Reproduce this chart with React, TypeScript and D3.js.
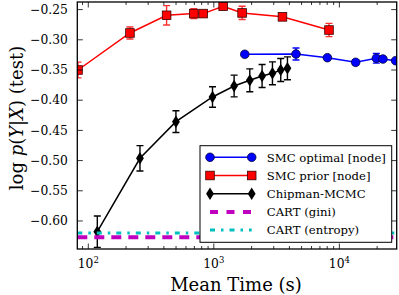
import React, { useEffect, useRef } from 'react';
import * as d3 from 'd3';

// SMC optimal [node]
const smcOptTime = [1764, 4515, 8025, 13480, 19700, 22230, 28050];
const smcOptVal = [-0.324, -0.3235, -0.3296, -0.3373, -0.3306, -0.3318, -0.3346];
const smcOptErr = [0.003, 0.01, 0.003, 0.004, 0.008, 0.003, 0.003];

// SMC prior [node]
const smcPriorTime = [82.8, 214.7, 420.5, 693, 822, 1186, 1680, 3521, 8268];
const smcPriorVal = [-0.35, -0.2887, -0.2594, -0.2566, -0.2566, -0.2445, -0.2555, -0.262, -0.2838];
const smcPriorErr = [0.013, 0.01, 0.016, 0.008, 0.003, 0.003, 0.011, 0.003, 0.011];

// Chipman-MCMC
const chipTime = [118, 258, 499, 976, 1451, 1934, 2423, 2931, 3412, 3858];
const chipVal = [-0.6177, -0.4962, -0.4356, -0.3947, -0.3765, -0.3671, -0.3599, -0.3555, -0.35, -0.3472];
const chipErr = [0.026, 0.021, 0.018, 0.017, 0.018, 0.019, 0.019, 0.019, 0.019, 0.019];

// CART baselines
const cartGini = -0.627;
const cartEntropy = -0.62;

const yTicks = [-0.6, -0.55, -0.5, -0.45, -0.4, -0.35, -0.3, -0.25];
const yTickLabels = ['\u22120.60', '\u22120.55', '\u22120.50', '\u22120.45', '\u22120.40', '\u22120.35', '\u22120.30', '\u22120.25'];
const xMajor = [100, 1000, 10000];
const xMajorExp = ['2', '3', '4'];

const legendLabels = ['SMC optimal [node]', 'SMC prior [node]', 'Chipman-MCMC', 'CART (gini)', 'CART (entropy)'];

const FONT = '"DejaVu Serif", serif';

const App: React.FC = () => {
  const ref = useRef<HTMLDivElement | null>(null);

  useEffect(() => {
    if (!ref.current) return;
    ref.current.innerHTML = '';

    const width = 399;
    const height = 295;
    const left = 77.3;
    const right = 396.7;
    const top = 2;
    const bottom = 249;

    const x = d3.scaleLog().domain([81.75, 28620]).range([left, right]);
    const y = d3.scaleLinear().domain([-0.6464, -0.2374]).range([bottom, top]);

    const svg = d3
      .select(ref.current)
      .append('svg')
      .attr('width', width)
      .attr('height', height)
      .style('position', 'absolute')
      .style('left', '0px')
      .style('top', '0px')
      .style('background', '#fff');

    svg
      .append('defs')
      .append('clipPath')
      .attr('id', 'plot-clip')
      .append('rect')
      .attr('x', left)
      .attr('y', top)
      .attr('width', right - left)
      .attr('height', bottom - top);

    const plot = svg.append('g').attr('clip-path', 'url(#plot-clip)');

    type Pt = { t: number; v: number; e: number };
    const zip = (ts: number[], vs: number[], es: number[]): Pt[] => ts.map((t, i) => ({ t, v: vs[i], e: es[i] }));

    const line = d3
      .line<Pt>()
      .x((d) => x(d.t))
      .y((d) => y(d.v));

    const drawErr = (g: any, data: Pt[], color: string) => {
      data.forEach((d) => {
        const cx = x(d.t);
        const y0 = y(d.v - d.e);
        const y1 = y(d.v + d.e);
        g.append('line').attr('x1', cx).attr('x2', cx).attr('y1', y0).attr('y2', y1).attr('stroke', color).attr('stroke-width', 1.4);
        [y0, y1].forEach((yy) => {
          g.append('line').attr('x1', cx - 3.5).attr('x2', cx + 3.5).attr('y1', yy).attr('y2', yy).attr('stroke', color).attr('stroke-width', 1.4);
        });
      });
    };

    const circle = (g: any, cx: number, cy: number) =>
      g.append('circle').attr('cx', cx).attr('cy', cy).attr('r', 4.3).attr('fill', '#0000ff').attr('stroke', '#00003a').attr('stroke-width', 0.8);
    const square = (g: any, cx: number, cy: number) =>
      g.append('rect').attr('x', cx - 4.3).attr('y', cy - 4.3).attr('width', 8.6).attr('height', 8.6).attr('fill', '#ff0000').attr('stroke', '#3a0000').attr('stroke-width', 0.8);
    const diamond = (g: any, cx: number, cy: number) =>
      g
        .append('path')
        .attr('d', `M${cx},${cy - 6.2}L${cx + 3.9},${cy}L${cx},${cy + 6.2}L${cx - 3.9},${cy}Z`)
        .attr('fill', '#000');

    // SMC optimal
    const opt = zip(smcOptTime, smcOptVal, smcOptErr);
    plot.append('path').datum(opt).attr('d', line).attr('fill', 'none').attr('stroke', '#0000ff').attr('stroke-width', 1.5);
    drawErr(plot, opt, '#0000ff');
    opt.forEach((d) => circle(plot, x(d.t), y(d.v)));

    // SMC prior
    const prior = zip(smcPriorTime, smcPriorVal, smcPriorErr);
    plot.append('path').datum(prior).attr('d', line).attr('fill', 'none').attr('stroke', '#ff0000').attr('stroke-width', 1.5);
    drawErr(plot, prior, '#ff3030');
    prior.forEach((d) => square(plot, x(d.t), y(d.v)));

    // Chipman
    const chip = zip(chipTime, chipVal, chipErr);
    plot.append('path').datum(chip).attr('d', line).attr('fill', 'none').attr('stroke', '#000').attr('stroke-width', 1.5);
    drawErr(plot, chip, '#000');
    chip.forEach((d) => diamond(plot, x(d.t), y(d.v)));

    // CART lines
    plot
      .append('line')
      .attr('x1', left)
      .attr('x2', right)
      .attr('y1', y(cartGini))
      .attr('y2', y(cartGini))
      .attr('stroke', '#bf00bf')
      .attr('stroke-width', 4)
      .attr('stroke-dasharray', '10,7');
    plot
      .append('line')
      .attr('x1', left)
      .attr('x2', right)
      .attr('y1', y(cartEntropy))
      .attr('y2', y(cartEntropy))
      .attr('stroke', '#00bfbf')
      .attr('stroke-width', 3)
      .attr('stroke-dasharray', '5,6,2.5,6');

    // ticks
    const axes = svg.append('g').attr('stroke', '#000').attr('stroke-width', 0.8);
    const minor: number[] = [];
    [10, 100, 1000, 10000].forEach((dec) => {
      for (let k = 2; k <= 9; k++) {
        const v = dec * k;
        if (v > 81.75 && v < 28620) minor.push(v);
      }
    });
    minor.forEach((v) => {
      axes.append('line').attr('x1', x(v)).attr('x2', x(v)).attr('y1', bottom).attr('y2', bottom - 3);
      axes.append('line').attr('x1', x(v)).attr('x2', x(v)).attr('y1', top).attr('y2', top + 3);
    });
    xMajor.forEach((v) => {
      axes.append('line').attr('x1', x(v)).attr('x2', x(v)).attr('y1', bottom).attr('y2', bottom - 5.5);
      axes.append('line').attr('x1', x(v)).attr('x2', x(v)).attr('y1', top).attr('y2', top + 5.5);
    });
    yTicks.forEach((v) => {
      axes.append('line').attr('x1', left).attr('x2', left + 5.5).attr('y1', y(v)).attr('y2', y(v));
      axes.append('line').attr('x1', right).attr('x2', right - 5.5).attr('y1', y(v)).attr('y2', y(v));
    });

    // tick labels
    yTicks.forEach((v, i) => {
      svg
        .append('text')
        .attr('x', left - 9.5)
        .attr('y', y(v) + 4.2)
        .attr('text-anchor', 'end')
        .attr('font-family', FONT)
        .attr('font-size', 12.3)
        .attr('fill', '#000')
        .text(yTickLabels[i]);
    });
    xMajor.forEach((v, i) => {
      const t = svg
        .append('text')
        .attr('x', x(v))
        .attr('y', 268)
        .attr('text-anchor', 'middle')
        .attr('font-family', FONT)
        .attr('font-size', 12.3)
        .attr('fill', '#000');
      t.append('tspan').text('10');
      t.append('tspan').attr('dy', -5).attr('font-size', 8.5).text(xMajorExp[i]);
    });

    // axis labels
    svg
      .append('text')
      .attr('x', 236)
      .attr('y', 290.5)
      .attr('text-anchor', 'middle')
      .attr('font-family', FONT)
      .attr('font-size', 18)
      .attr('fill', '#000')
      .text('Mean Time (s)');

    const yl = svg
      .append('text')
      .attr('transform', 'translate(22.5,118) rotate(-90)')
      .attr('text-anchor', 'middle')
      .attr('font-family', FONT)
      .attr('font-size', 18)
      .attr('fill', '#000');
    yl.append('tspan').text('log ');
    yl.append('tspan').attr('font-style', 'italic').text('p');
    yl.append('tspan').text('(');
    yl.append('tspan').attr('font-style', 'italic').text('Y');
    yl.append('tspan').text('|');
    yl.append('tspan').attr('font-style', 'italic').text('X');
    yl.append('tspan').text(') (test)');

    // frame
    svg
      .append('rect')
      .attr('x', left)
      .attr('y', top)
      .attr('width', right - left)
      .attr('height', bottom - top)
      .attr('fill', 'none')
      .attr('stroke', '#000')
      .attr('stroke-width', 1.3);

    // legend
    const lg = svg.append('g');
    lg.append('rect')
      .attr('x', 200)
      .attr('y', 145.7)
      .attr('width', 191.7)
      .attr('height', 96.6)
      .attr('fill', '#fff')
      .attr('stroke', '#000')
      .attr('stroke-width', 1);
    const rowY = [157.3, 175.5, 193.7, 211.9, 230.1];
    const hx0 = 210;
    const hx1 = 251.7;
    // optimal
    lg.append('line').attr('x1', hx0).attr('x2', hx1).attr('y1', rowY[0]).attr('y2', rowY[0]).attr('stroke', '#0000ff').attr('stroke-width', 1.5);
    circle(lg, hx0, rowY[0]);
    circle(lg, hx1, rowY[0]);
    // prior
    lg.append('line').attr('x1', hx0).attr('x2', hx1).attr('y1', rowY[1]).attr('y2', rowY[1]).attr('stroke', '#ff0000').attr('stroke-width', 1.5);
    square(lg, hx0, rowY[1]);
    square(lg, hx1, rowY[1]);
    // chipman
    lg.append('line').attr('x1', hx0).attr('x2', hx1).attr('y1', rowY[2]).attr('y2', rowY[2]).attr('stroke', '#000').attr('stroke-width', 1.5);
    diamond(lg, hx0, rowY[2]);
    diamond(lg, hx1, rowY[2]);
    // gini
    lg.append('line')
      .attr('x1', hx0)
      .attr('x2', hx1)
      .attr('y1', rowY[3])
      .attr('y2', rowY[3])
      .attr('stroke', '#bf00bf')
      .attr('stroke-width', 4)
      .attr('stroke-dasharray', '8,8.5');
    // entropy
    lg.append('line')
      .attr('x1', hx0)
      .attr('x2', hx1)
      .attr('y1', rowY[4])
      .attr('y2', rowY[4])
      .attr('stroke', '#00bfbf')
      .attr('stroke-width', 3)
      .attr('stroke-dasharray', '5,6,2.5,6');

    legendLabels.forEach((lab, i) => {
      lg.append('text')
        .attr('x', 266.7)
        .attr('y', rowY[i] + 4.2)
        .attr('font-family', FONT)
        .attr('font-size', 11.7)
        .attr('fill', '#000')
        .text(lab);
    });
  }, []);

  return <div ref={ref} />;
};

export default App;
